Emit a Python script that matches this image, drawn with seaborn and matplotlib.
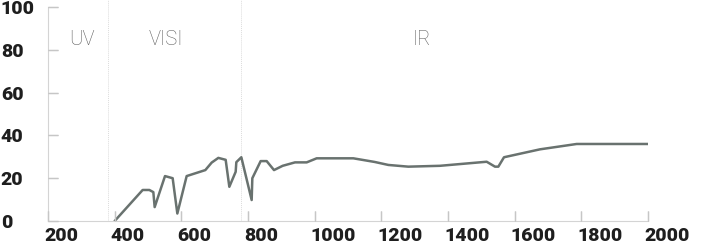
import matplotlib
matplotlib.use("Agg")
import matplotlib.pyplot as plt
import matplotlib.transforms as mtransforms
import seaborn as sns
import pandas as pd

# --- data ---
wavelength = [400, 484, 504, 516, 520, 551, 574, 588, 616, 672, 691, 711, 733,
              744, 763, 765, 780, 811, 813, 838, 856, 878, 904, 941, 976, 1006,
              1116, 1180, 1221, 1281, 1376, 1516, 1541, 1551, 1568, 1676, 1786, 2000]
transmission = [0, 14.5, 14.5, 13.5, 6.5, 21, 20, 3.5, 21, 23.8, 27.3, 29.5, 28.6,
                16, 23, 27.5, 29.8, 9.8, 20, 28, 28, 23.8, 25.8, 27.4, 27.4, 29.3,
                29.3, 27.6, 26.2, 25.4, 25.8, 27.7, 25.4, 25.4, 29.8, 33.5, 36, 36]
region_labels = ["UV", "VISI", "IR"]
region_label_x = [302, 554, 1322]
region_bounds = [380, 780]
x_ticks = [200, 400, 600, 800, 1000, 1200, 1400, 1600, 1800, 2000]
y_ticks = [0, 20, 40, 60, 80, 100]

df = pd.DataFrame({"wavelength": wavelength, "transmission": transmission})

sns.set_style("white")
plt.rcParams["font.family"] = ["Roboto", "DejaVu Sans"]
plt.rcParams["xtick.bottom"] = True
plt.rcParams["ytick.left"] = True
plt.rcParams["axes.axisbelow"] = False

fig = plt.figure(figsize=(7.10, 2.49), dpi=100)
ax = fig.add_axes([48 / 710, 28 / 249, 600 / 710, 221 / 249])
ax.set_axisbelow(False)

sns.lineplot(data=df, x="wavelength", y="transmission", ax=ax,
             color="#69726f", linewidth=1.8, sort=False)

for b in region_bounds:
    ax.axvline(b, color="#dcdcdc", linewidth=0.7, linestyle=(0, (1, 1)), zorder=0)

for lab, lx in zip(region_labels, region_label_x):
    ax.text(lx, 85, lab, ha="center", va="center", fontsize=14.5,
            fontweight="light", color="#5e5e5e")

ax.set_xlim(200, 2000)
ax.set_ylim(0, 103.3)
ax.set_xticks(x_ticks)
ax.set_yticks(y_ticks)
ax.set_xticklabels([str(v) for v in x_ticks])
ax.set_yticklabels([str(v) for v in y_ticks])
ax.set_xlabel("")
ax.set_ylabel("")

for s in ["top", "right"]:
    ax.spines[s].set_visible(False)
for s in ["left", "bottom"]:
    ax.spines[s].set_color("#d4d4d4")
    ax.spines[s].set_linewidth(0.8)
ax.spines["left"].set_bounds(0, 100)

tick_color = "#c6c6c6"
ax.tick_params(axis="both", which="major", bottom=True, left=True, direction="in",
               length=7.5, width=0.9, color=tick_color, labelcolor="#1e1e1e",
               labelsize=14)
ax.tick_params(axis="x", pad=4)
ax.tick_params(axis="y", pad=34)

# inward tick marks drawn at the tick positions (axis-relative length ~10 px)
ax.vlines(x_ticks, 0, 10 / 221, transform=ax.get_xaxis_transform(),
          colors=tick_color, linewidth=0.9, clip_on=False, zorder=3)
ax.hlines(y_ticks, 0, 10 / 600, transform=ax.get_yaxis_transform(),
          colors=tick_color, linewidth=0.9, clip_on=False, zorder=3)

offset_x = mtransforms.ScaledTranslation(-4 / 100, 0, fig.dpi_scale_trans)
for lbl in ax.get_xticklabels():
    lbl.set_fontweight("heavy")
    lbl.set_ha("left")
    lbl.set_transform(lbl.get_transform() + offset_x)
for lbl in ax.get_yticklabels():
    lbl.set_fontweight("heavy")
    lbl.set_ha("left")

fig.savefig("out.png", dpi=100)
